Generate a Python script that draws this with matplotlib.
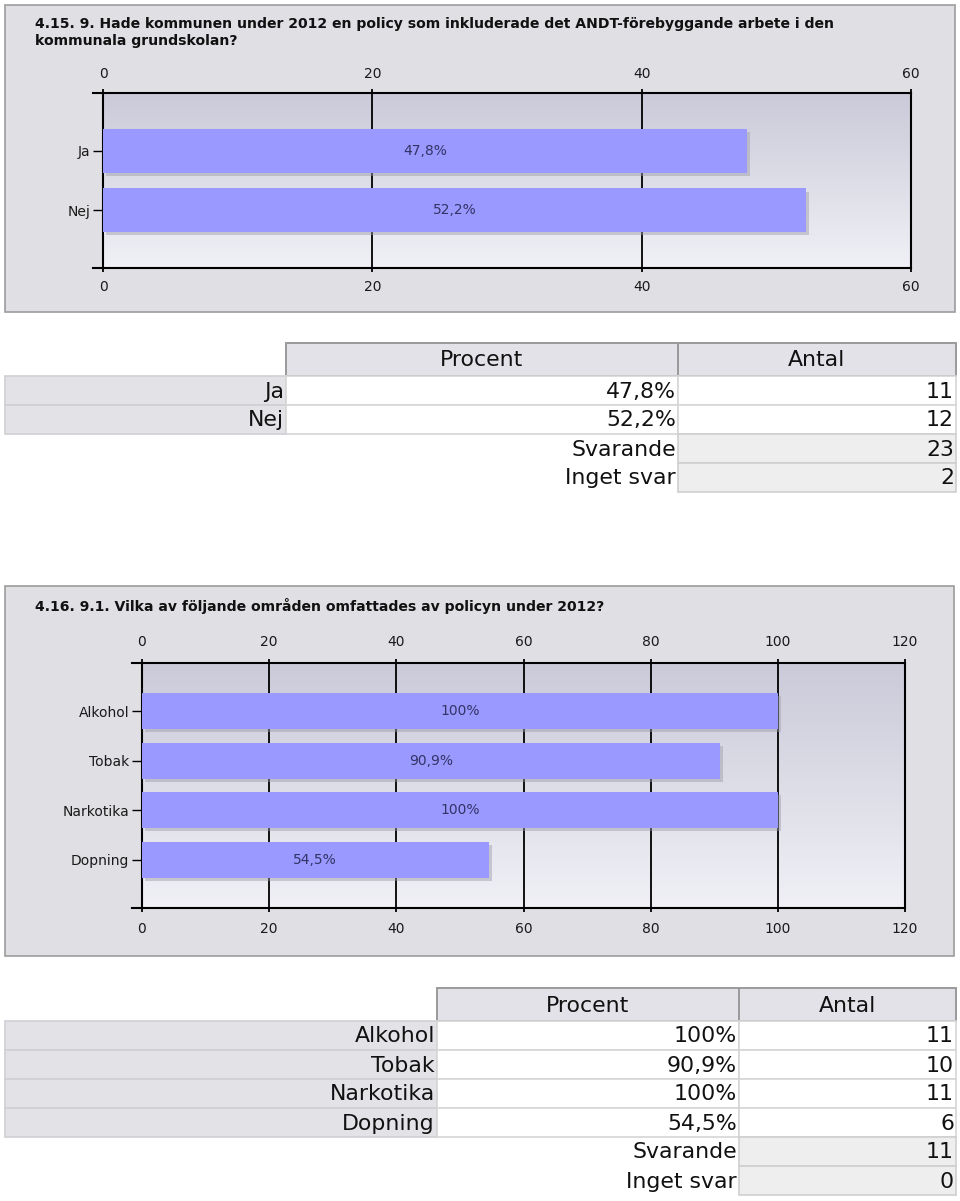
import numpy as np
import matplotlib.pyplot as plt
import matplotlib.patheffects as pe
from matplotlib.patches import Rectangle
from matplotlib.lines import Line2D
from matplotlib.colors import LinearSegmentedColormap

W, H = 960, 1201

# question 4.15
q1_title = ["4.15. 9. Hade kommunen under 2012 en policy som inkluderade det ANDT-förebyggande arbete i den",
            "kommunala grundskolan?"]
q1_cats = ["Ja", "Nej"]
q1_pct = [47.8, 52.2]
q1_pct_labels = ["47,8%", "52,2%"]
q1_counts = [11, 12]
q1_ticks = [0, 20, 40, 60]
q1_svarande = 23
q1_inget = 2

# question 4.16
q2_title = ["4.16. 9.1. Vilka av följande områden omfattades av policyn under 2012?"]
q2_cats = ["Alkohol", "Tobak", "Narkotika", "Dopning"]
q2_pct = [100, 90.9, 100, 54.5]
q2_pct_labels = ["100%", "90,9%", "100%", "54,5%"]
q2_counts = [11, 10, 11, 6]
q2_ticks = [0, 20, 40, 60, 80, 100, 120]
q2_svarande = 11
q2_inget = 0

col_names = ["Procent", "Antal"]

fig = plt.figure(figsize=(W / 100, H / 100), dpi=100)
fig.patch.set_facecolor('white')

# background axes in pixel coordinates (y downwards)
bg = fig.add_axes([0, 0, 1, 1])
bg.set_xlim(0, W)
bg.set_ylim(H, 0)
bg.axis('off')

grad = LinearSegmentedColormap.from_list('grad', ['#CACAD9', '#F0F0F6'])


def panel(x0, y0, x1, y1, title, title_y):
    bg.add_patch(Rectangle((x0, y0), x1 - x0, y1 - y0, facecolor='#DFDFE4',
                           edgecolor='#9C9C9C', lw=1.2))
    for i, line in enumerate(title):
        bg.text(35, title_y + i * 17, line, fontsize=10.1, fontweight='bold',
                color='#111111', ha='left', va='center')


def chart(x0, y0, x1, y1, cats, vals, labels, ticks, pad):
    ax = fig.add_axes([x0 / W, 1 - y1 / H, (x1 - x0) / W, (y1 - y0) / H])
    ax.imshow(np.linspace(0, 1, 256).reshape(-1, 1), cmap=grad, extent=[0, 1, 0, 1],
              transform=ax.transAxes, aspect='auto', zorder=0)
    y = np.arange(len(cats))
    bars = ax.barh(y, vals, height=0.73, color='#9999FF', zorder=3,
                   path_effects=[pe.SimplePatchShadow(offset=(2.2, -2.2), shadow_rgbFace='#9A9AAA', alpha=0.45),
                                 pe.Normal()])
    ax.bar_label(bars, labels=labels, label_type='center', color='#333366', fontsize=10)
    ax.set_xlim(ticks[0], ticks[-1])
    ax.set_ylim(len(cats) - 1 + 0.98, -0.98)
    ax.set_xticks(ticks)
    ax.set_yticks(y)
    ax.set_yticklabels(cats)
    ax.set_axisbelow(True)
    ax.grid(axis='x', color='black', lw=1.3)
    ax.tick_params(axis='x', top=True, labeltop=True, bottom=True, labelbottom=True,
                   length=3, width=1.3, pad=pad, labelsize=10, labelcolor='#1A1A1A')
    ax.tick_params(axis='y', length=7.2, width=1, pad=2, labelsize=10, labelcolor='#1A1A1A')
    for s in ax.spines.values():
        s.set_linewidth(1.5)
    ext = 10 / (x1 - x0)
    for yy in (0, 1):
        ax.add_line(Line2D([-ext, 0], [yy, yy], transform=ax.transAxes, color='black',
                           lw=1.5, clip_on=False))
    return ax


def table(top, xs, cats, pct_labels, counts, svarande, inget):
    hdr_h = 33
    row_h = 29
    # header
    for j, name in enumerate(col_names):
        bg.add_patch(Rectangle((xs[j + 1], top), xs[j + 2] - xs[j + 1], hdr_h,
                               facecolor='#E2E2E8', edgecolor='#9A9A9A', lw=1.4))
        bg.text((xs[j + 1] + xs[j + 2]) / 2, top + hdr_h / 2 + 1, name, fontsize=15.8,
                ha='center', va='center', color='#111111')
    y = top + hdr_h
    for cat, p, c in zip(cats, pct_labels, counts):
        bg.add_patch(Rectangle((xs[0], y), xs[1] - xs[0], row_h, facecolor='#E2E2E7',
                               edgecolor='#CFCFD4', lw=1.2))
        for j in range(2):
            bg.add_patch(Rectangle((xs[j + 1], y), xs[j + 2] - xs[j + 1], row_h,
                                   facecolor='white', edgecolor='#D6D6D6', lw=1.2))
        for j, t in enumerate([cat, p, str(c)]):
            bg.text(xs[j + 1] - 2, y + row_h / 2 + 1, t, fontsize=15.8, ha='right',
                    va='center', color='#111111')
        y += row_h
    for name, val in (("Svarande", svarande), ("Inget svar", inget)):
        bg.add_patch(Rectangle((xs[2], y), xs[3] - xs[2], row_h, facecolor='#EEEEEE',
                               edgecolor='#CFCFCF', lw=1.2))
        bg.text(xs[2] - 2, y + row_h / 2 + 1, name, fontsize=15.8, ha='right',
                va='center', color='#111111')
        bg.text(xs[3] - 2, y + row_h / 2 + 1, str(val), fontsize=15.8, ha='right',
                va='center', color='#111111')
        y += row_h


panel(5, 5, 955, 312, q1_title, 24)
chart(103, 93, 911, 268, q1_cats, q1_pct, q1_pct_labels, q1_ticks, 5.5)
table(343, [5, 286, 678, 956], q1_cats, q1_pct_labels, q1_counts, q1_svarande, q1_inget)

panel(5, 586, 954, 956, q2_title, 606)
chart(142, 663, 905, 908, q2_cats, q2_pct, q2_pct_labels, q2_ticks, 7)
table(988, [5, 437, 739, 956], q2_cats, q2_pct_labels, q2_counts, q2_svarande, q2_inget)

fig.savefig('out.png', dpi=100)
